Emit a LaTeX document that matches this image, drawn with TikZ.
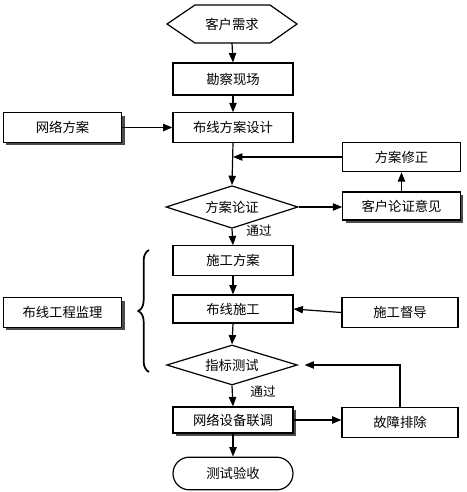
\documentclass[tikz,border=0pt]{standalone}
\usepackage{fontspec}
\newfontfamily\cjk{Noto Sans CJK SC}
\usetikzlibrary{shapes.geometric,shapes.misc,arrows.meta,decorations.pathreplacing,shadows,calc}
\begin{document}
\begin{tikzpicture}[x=0.75pt,y=-0.75pt,
  every node/.style={font=\cjk\fontsize{10}{12}\selectfont},
  line/.style={line width=0.9pt},
  arr/.style={line width=0.9pt,-{Triangle[length=7pt,width=5.5pt]}},
  box/.style={draw,line width=0.9pt,fill=white,minimum width=90pt,minimum height=22pt,inner sep=0pt},
  sbox/.style={box,drop shadow={shadow xshift=2pt,shadow yshift=-2pt,fill=black!70,opacity=1}},
  dia/.style={draw,line width=0.9pt,diamond,fill=white,inner sep=0pt,aspect=3},
  lbl/.style={font=\cjk\fontsize{9.5}{11}\selectfont}
]
\useasboundingbox (0,0) rectangle (467,492);
% hexagon
\node (req) at (232,24) {客户需求};
\draw[line] (167,24) -- (195,5) -- (270,5) -- (297,24) -- (270,43) -- (195,43) -- cycle;
\coordinate (reqb) at (232,43);
\node[box,minimum height=24pt] (survey) at (233,79) {勘察现场};
\node[box] (design) at (233,127.5) {布线方案设计};
\node[dia,minimum width=99pt,minimum height=32pt] (d1) at (232,207) {方案论证};
\node[box] (plan) at (233,260.5) {施工方案};
\node[box,minimum height=21pt] (build) at (233,309) {布线施工};
\node[dia,minimum width=98pt,minimum height=30pt] (d2) at (232,365) {指标测试};
\node[sbox,minimum height=19.5pt] (tune) at (233,420) {网络设备联调};
\node[draw,line width=0.9pt,rounded rectangle,minimum width=90pt,minimum height=24.5pt,inner sep=0pt] (accept) at (233,473.5) {测试验收};
\node[sbox,minimum width=89pt] (net) at (62.5,127.5) {网络方案};
\node[sbox,minimum width=89pt] (sup) at (62.5,312.5) {布线工程监理};
\node[box,minimum width=87pt] (guide) at (400,312.5) {施工督导};
\node[box,minimum width=87pt] (fault) at (400,422.5) {故障排除};
\node[box,minimum width=88pt] (revise) at (401.5,157) {方案修正};
\node[sbox,minimum width=88pt,minimum height=21pt] (opinion) at (401.5,206) {客户论证意见};
% connectors
\draw[arr] (reqb) -- (survey.north);
\draw[arr] (survey.south) -- (design.north);
\draw[arr] (design.south) -- (d1.north);
\coordinate (m1) at (design.south |- revise.west);
\draw[arr] (revise.west) -- (m1);
\draw[arr] (d1.east) -- (d1.east -| opinion.west);
\draw[arr] (opinion.north) -- (revise.south);
\draw[arr] (net.east) -- (design.west);
\draw[arr] (d1.south) -- (plan.north);
\node[lbl] (pass1) at (259,231) {通过};
\draw[arr] (plan.south) -- (build.north);
\draw[arr] (guide.west) -- (build.east);
\draw[arr] (build.south) -- (d2.north);
\draw[arr] (d2.south) -- (tune.north);
\node[lbl] (pass2) at (263,392) {通过};
\draw[arr] (tune.east) -- (tune.east -| fault.west);
\draw[arr,shorten >=5pt] (fault.north) |- (d2.east);
\draw[arr] (tune.south) -- (accept.north);
% brace
\draw[line width=1.3pt,decorate,decoration={brace,amplitude=8pt}] (149,372) -- (149,250);
\end{tikzpicture}
\end{document}
